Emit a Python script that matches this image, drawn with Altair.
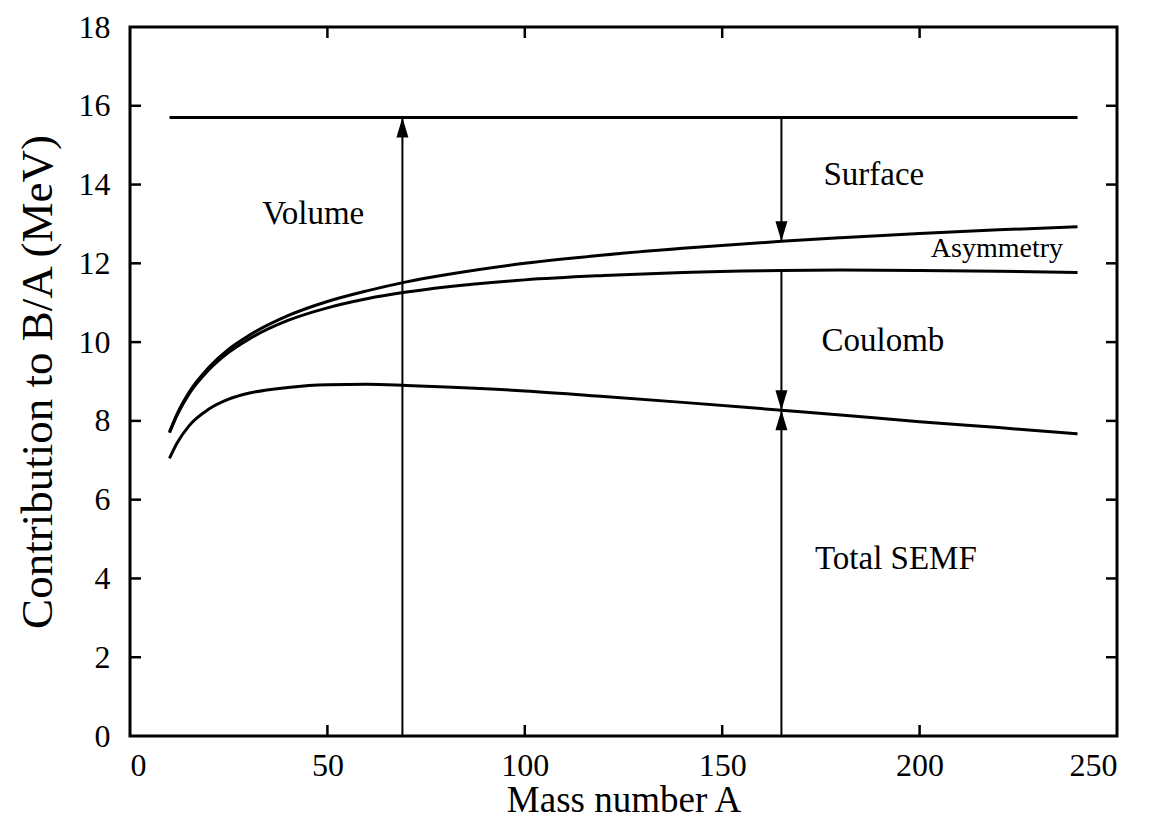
import altair as alt
import pandas as pd

# ---- data ----
mass_A = [10, 12, 15, 20, 25, 30, 40, 50, 60, 70, 80, 100, 120, 140, 165, 180, 200, 220, 240]
surface = [7.72, 8.19, 8.73, 9.36, 9.82, 10.16, 10.67, 11.03, 11.30, 11.53, 11.71, 12.00,
           12.21, 12.38, 12.56, 12.65, 12.76, 12.85, 12.93]
asymmetry = [7.70, 8.16, 8.69, 9.30, 9.74, 10.07, 10.55, 10.87, 11.10, 11.27, 11.40, 11.58,
             11.69, 11.77, 11.82, 11.83, 11.82, 11.80, 11.77]
total = [7.05, 7.45, 7.88, 8.30, 8.55, 8.70, 8.85, 8.92, 8.93, 8.90, 8.86, 8.76,
         8.62, 8.47, 8.27, 8.15, 7.98, 7.83, 7.67]
volume_A = [10, 240]
volume = [15.7, 15.7]

shaft_A = [69, 165, 165, 165]
shaft_from = [0, 15.7, 11.82, 0]
shaft_to = [15.7, 12.56, 8.27, 8.27]
head_up_A = [69, 165]
head_up_y = [15.7, 8.27]
head_down_A = [165, 165]
head_down_y = [12.56, 8.27]

label_text = ["Volume", "Surface", "Coulomb", "Total SEMF"]
label_A = [46.4, 188.4, 190.7, 194]
label_y = [13.24, 14.25, 10.02, 4.5]
small_label_text = ["Asymmetry"]
small_label_A = [219.6]
small_label_y = [12.36]

x_ticks = [0, 50, 100, 150, 200, 250]
y_ticks = [0, 2, 4, 6, 8, 10, 12, 14, 16, 18]
inner_x_ticks = [50, 100, 150, 200]
inner_y_ticks = [2, 4, 6, 8, 10, 12, 14, 16]

W, H = 987, 709
FONT = "Liberation Serif"
TICK = 11

# ---- tables ----
curves = pd.concat([
    pd.DataFrame({"A": mass_A, "v": surface, "s": "surface"}),
    pd.DataFrame({"A": mass_A, "v": asymmetry, "s": "asymmetry"}),
    pd.DataFrame({"A": mass_A, "v": total, "s": "total"}),
    pd.DataFrame({"A": volume_A, "v": volume, "s": "volume"}),
])
shafts = pd.DataFrame({"A": shaft_A, "y1": shaft_from, "y2": shaft_to})
up = pd.DataFrame({"A": head_up_A, "v": head_up_y})
down = pd.DataFrame({"A": head_down_A, "v": head_down_y})
labels = pd.DataFrame({"A": label_A, "v": label_y, "t": label_text})
slabels = pd.DataFrame({"A": small_label_A, "v": small_label_y, "t": small_label_text})
xt = pd.DataFrame({"A": inner_x_ticks})
yt = pd.DataFrame({"v": inner_y_ticks})

xscale = alt.Scale(domain=[0, 250], nice=False, zero=False)
yscale = alt.Scale(domain=[0, 18], nice=False, zero=False)

X = alt.X("A:Q", scale=xscale, title="Mass number A",
          axis=alt.Axis(values=x_ticks, ticks=False, domain=False, grid=False,
                        labelPadding=14, titlePadding=1, labelFont=FONT, titleFont=FONT,
                        labelFontSize=32, titleFontSize=37, titleFontWeight="normal",
                        labelColor="black", titleColor="black"))
Y = alt.Y("v:Q", scale=yscale, title="Contribution to B/A (MeV)",
          axis=alt.Axis(values=y_ticks, ticks=False, domain=False, grid=False,
                        labelPadding=20, titlePadding=18, labelFont=FONT, titleFont=FONT,
                        labelFontSize=32, titleFontSize=45, titleFontWeight="normal",
                        labelColor="black", titleColor="black"))

lines = alt.Chart(curves).mark_line(color="black", strokeWidth=3, interpolate="monotone").encode(
    x=X, y=Y, detail="s:N")

shaft = alt.Chart(shafts).mark_rule(color="black", strokeWidth=2).encode(
    x=alt.X("A:Q", scale=xscale),
    y=alt.Y("y1:Q", scale=yscale),
    y2="y2:Q")

up_head = alt.Chart(up).mark_point(
    shape="M0,-1L0.6,1L-0.6,1Z", filled=True, size=400, color="black", opacity=1,
    yOffset=10).encode(x=alt.X("A:Q", scale=xscale), y=alt.Y("v:Q", scale=yscale))
down_head = alt.Chart(down).mark_point(
    shape="M0,1L0.6,-1L-0.6,-1Z", filled=True, size=400, color="black", opacity=1,
    yOffset=-10).encode(x=alt.X("A:Q", scale=xscale), y=alt.Y("v:Q", scale=yscale))

txt = alt.Chart(labels).mark_text(font=FONT, fontSize=33, color="black",
                                  align="center", baseline="middle").encode(
    x=alt.X("A:Q", scale=xscale), y=alt.Y("v:Q", scale=yscale), text="t:N")
stxt = alt.Chart(slabels).mark_text(font=FONT, fontSize=28, color="black",
                                    align="center", baseline="middle").encode(
    x=alt.X("A:Q", scale=xscale), y=alt.Y("v:Q", scale=yscale), text="t:N")

top_ticks = alt.Chart(xt).mark_rule(color="black", strokeWidth=2.5).encode(
    x=alt.X("A:Q", scale=xscale), y=alt.value(0), y2=alt.value(TICK))
bot_ticks = alt.Chart(xt).mark_rule(color="black", strokeWidth=2.5).encode(
    x=alt.X("A:Q", scale=xscale), y=alt.value(H), y2=alt.value(H - TICK))
left_ticks = alt.Chart(yt).mark_rule(color="black", strokeWidth=2.5).encode(
    y=alt.Y("v:Q", scale=yscale), x=alt.value(0), x2=alt.value(TICK))
right_ticks = alt.Chart(yt).mark_rule(color="black", strokeWidth=2.5).encode(
    y=alt.Y("v:Q", scale=yscale), x=alt.value(W - TICK), x2=alt.value(W))

chart = alt.layer(
    lines, shaft, up_head, down_head, txt, stxt,
    top_ticks, bot_ticks, left_ticks, right_ticks
).properties(
    width=W, height=H,
    autosize=alt.AutoSizeParams(type="none"),
    padding={"left": 122, "top": 19, "right": 27, "bottom": 84},
    background="white",
).configure_view(stroke="black", strokeWidth=3)

chart.save("out.html", embed_options={"renderer": "svg", "actions": False})
